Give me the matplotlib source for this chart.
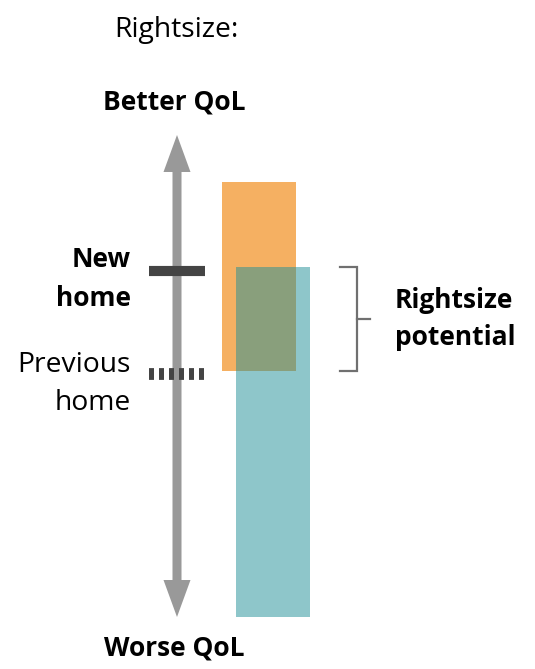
import matplotlib
matplotlib.use('Agg')
import matplotlib.pyplot as plt

plt.rcParams['font.family'] = ['Open Sans', 'DejaVu Sans']
plt.rcParams['lines.scale_dashes'] = False

# QoL scale (higher = better), x in plot units
arrow_x = 177
arrow_range = (52, 534)
bar_names = ['before', 'after']
bar_x = [259, 273]
bar_bottom = [298, 52]
bar_top = [487, 402]
bar_colors = ['#F5B062', '#1F8F97']
bar_alpha = [1.0, 0.5]
new_home = 398
previous_home = 295
home_span = (149, 205)

fig = plt.figure(figsize=(5.35, 6.69), dpi=100)
ax = fig.add_axes([0, 0, 1, 1])
ax.set_xlim(0, 535)
ax.set_ylim(0, 669)
ax.axis('off')

# double headed QoL arrow
mid = (arrow_range[0] + arrow_range[1]) / 2
for end in arrow_range:
    ax.arrow(arrow_x, mid, 0, end - mid, width=9, head_width=27, head_length=37,
             length_includes_head=True, color='#999999', lw=0, zorder=1)

# home markers
ax.hlines(new_home, *home_span, color='#444444', lw=7.3, zorder=3)
ax.hlines(previous_home, *home_span, color='#444444', lw=8.5,
          linestyles=[(0, (3.6, 3.6))], zorder=3)

# bars
for x, b, t, c, a in zip(bar_x, bar_bottom, bar_top, bar_colors, bar_alpha):
    ax.bar(x, t - b, bottom=b, width=74, color=c, alpha=a, lw=0, zorder=2)

# bracket over the overlap
lo = max(bar_bottom)
hi = min(bar_top)
bx = 357
ax.plot([bx - 17, bx, bx, bx - 17], [hi, hi, lo, lo], color='#707070', lw=1.6,
        solid_joinstyle='miter')
ax.plot([bx, bx + 13], [(hi + lo) / 2] * 2, color='#707070', lw=1.6)

fs = 19
fr = 20.3
ax.text(176, 669 - 37, 'Rightsize:', fontsize=fr, ha='center', va='baseline')
ax.text(174, 669 - 109, 'Better QoL', fontsize=fs, fontweight='bold', ha='center', va='baseline')
ax.text(174, 669 - 655, 'Worse QoL', fontsize=fs, fontweight='bold', ha='center', va='baseline')
ax.text(131, 669 - 267, 'New', fontsize=fs, fontweight='bold', ha='right', va='baseline')
ax.text(131, 669 - 306, 'home', fontsize=fs, fontweight='bold', ha='right', va='baseline')
ax.text(131, 669 - 372, 'Previous', fontsize=fr, ha='right', va='baseline')
ax.text(131, 669 - 410, 'home', fontsize=fr, ha='right', va='baseline')
ax.text(395, 669 - 308, 'Rightsize', fontsize=fs, fontweight='bold', ha='left', va='baseline')
ax.text(395, 669 - 345, 'potential', fontsize=fs, fontweight='bold', ha='left', va='baseline')

fig.savefig('out.png', dpi=100)
